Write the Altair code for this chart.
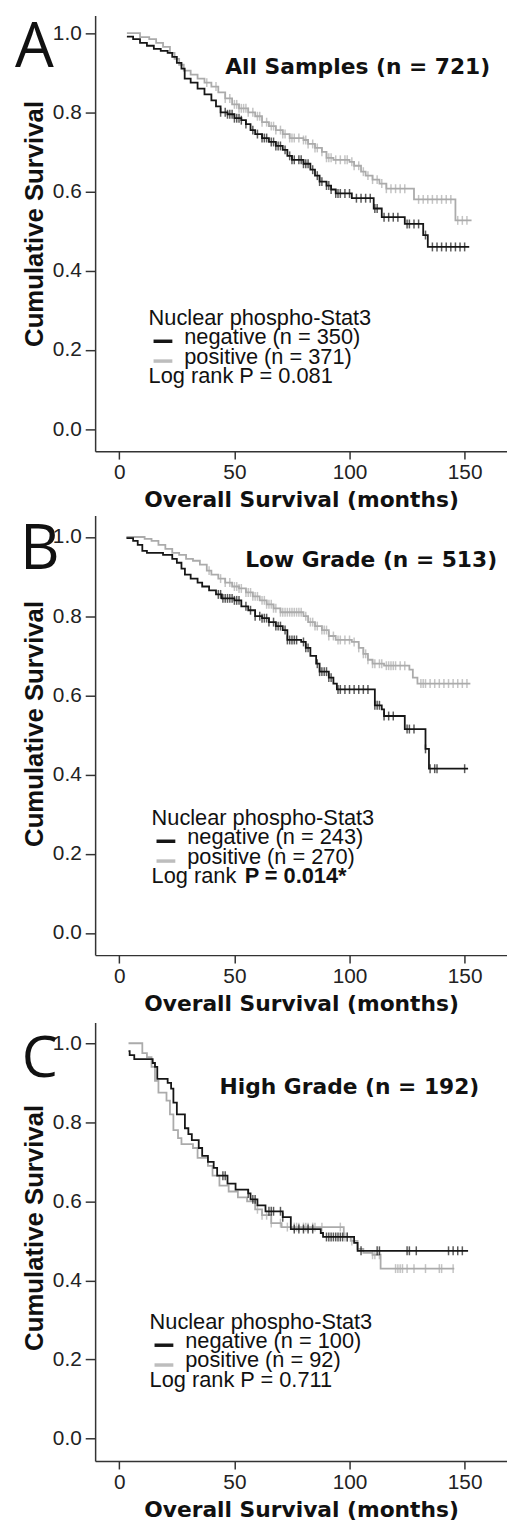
import altair as alt
import pandas as pd

GROUPS = ["negative", "positive"]
COLORS = ["#161616", "#ababab"]

# ---------------- Panel A: All Samples ----------------
a_neg_t = [3.3, 6, 9, 12, 15, 18, 21, 23, 25, 27, 28.4, 31, 34, 37, 40, 42, 44, 47, 50, 53, 55, 57, 59, 62, 65, 68, 71, 73, 75, 80, 83, 85, 87, 90, 92, 94, 101, 110.5, 114, 124, 132, 134, 152]
a_neg_s = [0.991, 0.985, 0.975, 0.968, 0.96, 0.955, 0.95, 0.94, 0.925, 0.91, 0.885, 0.875, 0.86, 0.845, 0.83, 0.815, 0.80, 0.795, 0.785, 0.78, 0.77, 0.755, 0.745, 0.735, 0.725, 0.715, 0.705, 0.69, 0.68, 0.67, 0.655, 0.64, 0.625, 0.615, 0.605, 0.595, 0.583, 0.557, 0.535, 0.518, 0.49, 0.46, 0.46]
a_pos_t = [3.3, 9, 13, 16, 19, 22, 24, 26, 28, 31, 34, 37, 40, 43, 46, 49, 52, 56, 59, 62, 65, 68, 71, 74, 80, 82, 85, 88, 90, 93, 100, 102, 105, 107, 110, 113, 116, 128, 146, 153]
a_pos_s = [1.0, 0.99, 0.985, 0.975, 0.965, 0.95, 0.935, 0.92, 0.905, 0.895, 0.885, 0.875, 0.865, 0.85, 0.835, 0.82, 0.81, 0.80, 0.79, 0.775, 0.765, 0.755, 0.745, 0.735, 0.73, 0.72, 0.71, 0.70, 0.685, 0.68, 0.675, 0.665, 0.65, 0.64, 0.63, 0.62, 0.607, 0.58, 0.527, 0.527]
a_neg_cens = [44, 46, 47, 48, 49, 50, 51, 52, 53, 55, 58, 60, 62, 63, 64, 66, 67, 68, 69, 70, 72, 74, 75, 76, 78, 79, 80, 81, 82, 84, 86, 87, 88, 90, 91, 92, 94, 95, 96, 98, 100, 103, 105, 107, 109, 111, 112, 115, 117, 119, 121, 125, 126, 128, 130, 133, 136, 138, 140, 142, 144, 146, 148, 150]
a_pos_cens = [38, 42, 46, 48, 50, 51, 52, 53, 54, 55, 56, 58, 60, 61, 62, 64, 66, 67, 68, 70, 71, 72, 74, 75, 76, 78, 80, 81, 82, 84, 85, 86, 88, 90, 91, 92, 94, 96, 98, 99, 101, 102, 104, 106, 108, 110, 112, 114, 116, 118, 120, 122, 124, 130, 132, 134, 136, 138, 140, 142, 144, 147, 149, 151]

# ---------------- Panel B: Low Grade ----------------
b_neg_t = [3.1, 6, 8, 10, 12, 19, 23, 25, 27, 28.5, 31, 34, 36, 39, 42, 44.5, 50, 53, 56, 59, 62, 65, 68, 71, 73, 79, 81, 83, 85.5, 87, 91, 93, 94.5, 110, 111, 114, 115, 124, 133, 134.5, 151.5]
b_neg_s = [0.997, 0.99, 0.98, 0.965, 0.96, 0.955, 0.945, 0.935, 0.92, 0.905, 0.895, 0.885, 0.875, 0.865, 0.855, 0.845, 0.84, 0.825, 0.815, 0.80, 0.795, 0.785, 0.775, 0.765, 0.74, 0.735, 0.72, 0.70, 0.68, 0.66, 0.645, 0.63, 0.615, 0.615, 0.575, 0.565, 0.548, 0.515, 0.465, 0.415, 0.415]
b_pos_t = [3.1, 11, 14, 17, 20, 23, 26, 29, 32, 35, 38, 40, 43, 46, 49, 52, 55, 58, 61, 64, 67, 70, 80, 82, 85, 88, 91, 94, 101, 104, 106, 108, 110, 115, 126, 127.5, 129.5, 152.5]
b_pos_s = [1.0, 0.995, 0.99, 0.98, 0.97, 0.96, 0.955, 0.945, 0.94, 0.93, 0.915, 0.905, 0.895, 0.885, 0.875, 0.87, 0.86, 0.85, 0.84, 0.83, 0.82, 0.81, 0.80, 0.785, 0.775, 0.765, 0.75, 0.74, 0.735, 0.72, 0.705, 0.69, 0.68, 0.675, 0.665, 0.645, 0.63, 0.63]
b_neg_cens = [43, 44, 45, 46, 47, 48, 49, 50, 51, 52, 55, 57, 59, 61, 62, 63, 64, 65, 67, 68, 69, 70, 72, 73, 74, 75, 76, 77, 80, 81, 82, 86, 87, 88, 89, 90, 91, 92, 95, 96, 98, 100, 102, 104, 106, 108, 111, 112, 113, 115, 117, 119, 125, 126, 128, 133, 135, 137, 138, 150]
b_pos_cens = [39, 44, 46, 48, 50, 51, 52, 53, 55, 56, 57, 58, 59, 60, 62, 63, 64, 65, 66, 67, 68, 70, 71, 72, 73, 74, 75, 76, 77, 78, 79, 81, 83, 84, 85, 86, 88, 89, 90, 91, 93, 95, 96, 98, 100, 102, 104, 106, 107, 108, 110, 111, 113, 114, 116, 117, 118, 119, 120, 122, 124, 131, 132, 133, 135, 137, 139, 141, 143, 145, 147, 149, 151]

# ---------------- Panel C: High Grade ----------------
c_neg_t = [4, 4.5, 6.5, 14.5, 15.5, 16.5, 21, 22.5, 23.5, 25, 28.5, 30, 31.5, 34.5, 36, 38.5, 41, 42.5, 47, 50.5, 56, 57, 60, 63.5, 71, 74.5, 87.5, 88.5, 102, 103.5, 151.5]
c_neg_s = [0.98, 0.97, 0.96, 0.95, 0.94, 0.91, 0.90, 0.885, 0.85, 0.82, 0.785, 0.77, 0.755, 0.735, 0.715, 0.70, 0.685, 0.665, 0.645, 0.63, 0.62, 0.605, 0.59, 0.575, 0.56, 0.53, 0.52, 0.51, 0.495, 0.475, 0.475]
c_pos_t = [4, 10, 12, 14, 15.5, 17, 20.5, 22, 23.5, 25.5, 27, 32, 34, 38.5, 40.5, 43.5, 47.5, 51.5, 55.5, 59, 62, 66, 70.5, 97.5, 100.5, 103.5, 106, 110, 113.5, 145.5]
c_pos_s = [1.0, 0.975, 0.965, 0.94, 0.905, 0.875, 0.855, 0.82, 0.78, 0.76, 0.745, 0.735, 0.71, 0.69, 0.665, 0.64, 0.625, 0.61, 0.60, 0.58, 0.565, 0.545, 0.535, 0.51, 0.50, 0.48, 0.47, 0.465, 0.43, 0.43]
c_neg_cens = [45, 46, 56, 58, 59, 65, 66, 67, 70, 71, 76, 78, 80, 82, 84, 90, 91, 92, 93, 94, 95, 96, 97, 99, 105, 112, 113, 125, 126, 129, 143, 145, 147, 149]
c_pos_cens = [60, 62, 64, 66, 70, 73, 76, 77, 78, 80, 81, 82, 84, 85, 88, 96, 98, 99, 101, 110, 111, 113, 120, 121, 122, 123, 125, 128, 133, 139, 140, 145]

X_DOMAIN = [-10.5, 168.4]
Y_TICKS = [0.0, 0.2, 0.4, 0.6, 0.8, 1.0]
X_TICKS = [0, 50, 100, 150]
W = 416

TITLE_FONT = "DejaVu Sans"
TEXT_FONT = "Liberation Sans"


def curve_df(t, s, grp):
    return pd.DataFrame({"t": [float(v) for v in t], "s": [float(v) for v in s], "grp": grp})


def censor_df(times, t, s, grp):
    steps = pd.DataFrame({"t": [float(v) for v in t], "s": [float(v) for v in s]}).sort_values("t")
    c = pd.DataFrame({"t": [float(v) for v in sorted(times)]})
    m = pd.merge_asof(c, steps, on="t")
    m["grp"] = grp
    return m


ONE = pd.DataFrame({"d": [0]})


def label(txt, x, y, size=22, font=TEXT_FONT, weight="normal", align="left", color="#111111"):
    return alt.Chart(ONE).mark_text(
        align=align, baseline="alphabetic", fontSize=size, font=font, fontWeight=weight, color=color
    ).encode(x=alt.value(x), y=alt.value(y), text=alt.value(txt))


def swatch(x1, x2, y, color):
    return alt.Chart(ONE).mark_rule(strokeWidth=3.5, color=color).encode(
        x=alt.value(x1), x2=alt.value(x2), y=alt.value(y)
    )


def panel(neg_t, neg_s, pos_t, pos_s, neg_c, pos_c, height, ydom, ytitle_y, letter, letter_pos,
          title, title_pos, leg, n_neg, n_pos, ptxt):
    xs = alt.Scale(domain=X_DOMAIN, nice=False, zero=False)
    ys = alt.Scale(domain=ydom, nice=False, zero=False)
    xax = alt.Axis(values=X_TICKS, title="Overall Survival (months)", titleY=56,
                   titleBaseline="alphabetic", format="d")
    yax = alt.Axis(values=Y_TICKS, title="Cumulative Survival", format=".1f",
                   titleX=-53, titleY=ytitle_y, titleAngle=270, titleBaseline="alphabetic",
                   titleAlign="center", titleFont=TEXT_FONT, titleFontSize=26)
    cs = alt.Scale(domain=GROUPS, range=COLORS)

    pos_line = alt.Chart(curve_df(pos_t, pos_s, "positive")).mark_line(
        interpolate="step-after", strokeWidth=1.8
    ).encode(
        x=alt.X("t:Q", scale=xs, axis=xax),
        y=alt.Y("s:Q", scale=ys, axis=yax),
        color=alt.Color("grp:N", scale=cs, legend=None),
    )
    neg_line = alt.Chart(curve_df(neg_t, neg_s, "negative")).mark_line(
        interpolate="step-after", strokeWidth=1.8
    ).encode(x="t:Q", y="s:Q", color=alt.Color("grp:N", scale=cs, legend=None))
    pos_tick = alt.Chart(censor_df(pos_c, pos_t, pos_s, "positive")).mark_tick(
        orient="vertical", size=9, thickness=1.5
    ).encode(x="t:Q", y="s:Q", color=alt.Color("grp:N", scale=cs, legend=None))
    neg_tick = alt.Chart(censor_df(neg_c, neg_t, neg_s, "negative")).mark_tick(
        orient="vertical", size=9, thickness=1.5
    ).encode(x="t:Q", y="s:Q", color=alt.Color("grp:N", scale=cs, legend=None))

    lx, ly = leg
    layers = [pos_line, pos_tick, neg_line, neg_tick,
              label(letter, letter_pos[0], letter_pos[1], size=letter_pos[2], font="Open Sans"),
              label(title, title_pos[0], title_pos[1], size=22, font=TITLE_FONT, weight="bold", align="right"),
              label("Nuclear phospho-Stat3", lx, ly),
              swatch(lx + 5, lx + 24, ly + 16, COLORS[0]),
              label("negative (n = %d)" % n_neg, lx + 36, ly + 19),
              swatch(lx + 5, lx + 24, ly + 36, "#bdbdbd"),
              label("positive (n = %d)" % n_pos, lx + 36, ly + 38.5)]
    if ptxt[1]:
        layers.append(label("Log rank", lx, ly + 58))
        layers.append(label(ptxt[0], lx + 94, ly + 58, font=TEXT_FONT, weight="bold"))
    else:
        layers.append(label("Log rank P = " + ptxt[0], lx, ly + 58))
    return alt.layer(*layers).properties(width=W, height=height)


pA = panel(a_neg_t, a_neg_s, a_pos_t, a_pos_s, a_neg_cens, a_pos_cens, 440, [-0.0558, 1.0443], 210,
           "A", (-81, 52, 62), "All Samples (n = 721)", (399, 58.7), (54, 313), 350, 371, ("0.081", False))
pB = panel(b_neg_t, b_neg_s, b_pos_t, b_pos_s, b_neg_cens, b_pos_cens, 444, [-0.0558, 1.0542], 210,
           "B", (-76, 53.7, 62), "Low Grade (n = 513)", (406, 52), (57, 313), 243, 270, ("P = 0.014*", True))
pC = panel(c_neg_t, c_neg_s, c_pos_t, c_pos_s, c_neg_cens, c_pos_cens, 443, [-0.0568, 1.0526], 207,
           "C", (-74, 55, 58), "High Grade (n = 192)", (388, 72.3), (55, 310), 100, 92, ("0.711", False))

chart = alt.vconcat(pA, alt.vconcat(pB, pC, spacing=8), spacing=5).properties(
    padding={"left": 7, "top": 0, "right": 0, "bottom": 0}
).configure_view(stroke=None).configure_axis(
    grid=False,
    domainColor="#333333", domainWidth=1.5,
    tickColor="#333333", tickWidth=1.5,
    labelFont=TEXT_FONT, labelFontSize=21, labelColor="#222222",
    titleFont=TITLE_FONT, titleFontSize=22, titleFontWeight="bold", titleColor="#111111",
).configure_axisX(labelPadding=3, tickSize=8).configure_axisY(labelPadding=4, tickSize=10)

chart.save("out.html", embed_options={"renderer": "svg", "actions": False})
